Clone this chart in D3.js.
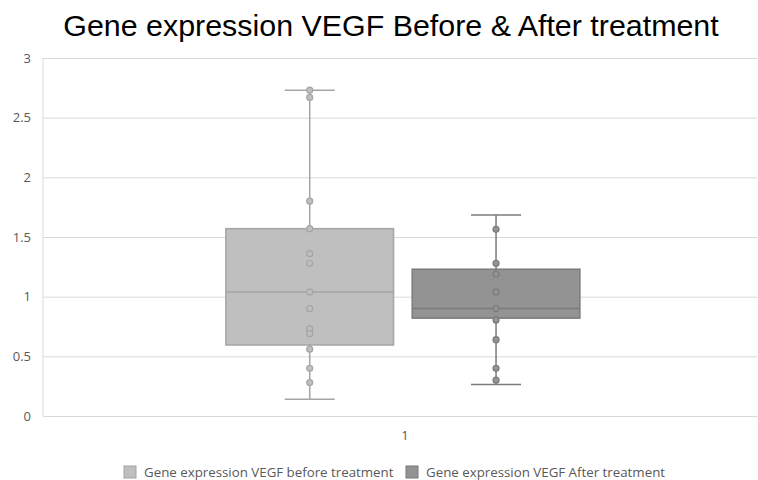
<!DOCTYPE html>
<html>
<head>
<meta charset="utf-8">
<script src="https://cdn.jsdelivr.net/npm/d3@7"></script>
<style>
  body { margin: 0; background: #fff; }
  text { font-family: "Open Sans", "Liberation Sans", sans-serif; }
</style>
</head>
<body>
<svg id="chart"></svg>
<script>
const categories = ['1'];
const seriesNames = ['Gene expression VEGF before treatment', 'Gene expression VEGF After treatment'];
// min, q1, median, q3, max
const beforeStats = [0.14, 0.595, 1.04, 1.57, 2.73];
const afterStats = [0.265, 0.82, 0.90, 1.23, 1.685];
const beforePoints = [2.73, 2.67, 1.80, 1.57, 1.36, 1.28, 1.04, 0.90, 0.73, 0.69, 0.56, 0.40, 0.28];
const afterPoints = [1.565, 1.28, 1.19, 1.04, 0.90, 0.805, 0.64, 0.40, 0.30];
const yTicks = [0, 0.5, 1, 1.5, 2, 2.5, 3];

const W = 758, H = 480;
const margin = { top: 58, right: 1, bottom: 64, left: 43 };

const svg = d3.select('#chart').attr('width', W).attr('height', H);

const x = d3.scaleBand().domain(categories).range([margin.left, W - margin.right]);
const xs = d3.scaleBand().domain(seriesNames).range([0, x.bandwidth()])
  .paddingInner(0.1).paddingOuter(0.966).align(0.508);
const y = d3.scaleLinear().domain([0, 3]).range([H - margin.bottom, margin.top]);

const fills = ['#bfbfbf', '#939393'];
const strokes = ['#a5a5a5', '#7b7b7b'];

svg.append('text')
  .attr('x', 391).attr('y', 36)
  .attr('text-anchor', 'middle')
  .style('font-family', '"Liberation Sans", Arial, sans-serif')
  .style('font-size', '30.4px')
  .attr('fill', '#000')
  .text('Gene expression VEGF Before & After treatment');

// gridlines
svg.append('g')
  .attr('transform', `translate(${margin.left},0)`)
  .call(d3.axisLeft(y).tickValues(yTicks).tickSize(-(W - margin.left - margin.right)).tickFormat(d => d))
  .call(g => g.select('.domain').remove())
  .call(g => g.selectAll('.tick line').attr('stroke', '#d9d9d9'))
  .call(g => g.selectAll('.tick text').attr('x', -12).attr('fill', '#595959').style('font-size', '13px'));

svg.append('line')
  .attr('x1', margin.left).attr('x2', margin.left)
  .attr('y1', y(3)).attr('y2', y(0))
  .attr('stroke', '#d9d9d9');

svg.append('g')
  .attr('transform', `translate(0,${y(0)})`)
  .call(d3.axisBottom(x).tickSize(0).tickPadding(15))
  .call(g => g.select('.domain').attr('stroke', '#d9d9d9'))
  .call(g => g.selectAll('.tick text').attr('dx', 5).attr('fill', '#595959').style('font-size', '13px'));

const series = [
  { name: seriesNames[0], stats: beforeStats, points: beforePoints },
  { name: seriesNames[1], stats: afterStats, points: afterPoints }
];

series.forEach((s, i) => {
  const x0 = x(categories[0]) + xs(s.name);
  const bw = xs.bandwidth();
  const cx = x0 + bw / 2;
  const [mn, q1, md, q3, mx] = s.stats;
  const g = svg.append('g');
  g.append('line').attr('x1', cx).attr('x2', cx).attr('y1', y(mx)).attr('y2', y(mn))
    .attr('stroke', strokes[i]).attr('stroke-width', 1.5);
  [mn, mx].forEach(v => {
    g.append('line').attr('x1', cx - 25).attr('x2', cx + 25).attr('y1', y(v)).attr('y2', y(v))
      .attr('stroke', strokes[i]).attr('stroke-width', 1.5);
  });
  g.append('rect').attr('x', x0).attr('width', bw).attr('y', y(q3)).attr('height', y(q1) - y(q3))
    .attr('fill', fills[i]).attr('stroke', strokes[i]).attr('stroke-width', 1.5);
  g.append('line').attr('x1', x0).attr('x2', x0 + bw).attr('y1', y(md)).attr('y2', y(md))
    .attr('stroke', strokes[i]).attr('stroke-width', 1.5);
  g.selectAll('circle').data(s.points).enter().append('circle')
    .attr('cx', cx).attr('cy', d => y(d)).attr('r', 3)
    .attr('fill', fills[i]).attr('stroke', strokes[i]).attr('stroke-width', 1.2);
});

// legend
const legend = svg.append('g').attr('transform', 'translate(0,472)');
const legendX = [124, 406];
seriesNames.forEach((n, i) => {
  legend.append('rect').attr('x', legendX[i]).attr('y', -6).attr('width', 12).attr('height', 12)
    .attr('fill', fills[i]).attr('stroke', strokes[i]);
  legend.append('text').attr('x', legendX[i] + 20).attr('y', 0).attr('dy', '0.35em')
    .attr('fill', '#595959').style('font-size', '13.3px').text(n);
});
</script>
</body>
</html>
